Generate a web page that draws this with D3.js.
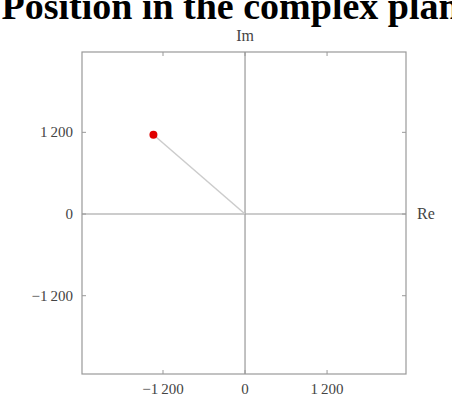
<!DOCTYPE html>
<html>
<head>
<meta charset="utf-8">
<script src="https://cdn.jsdelivr.net/npm/d3@7"></script>
<style>
  body { margin: 0; background: #fff; }
  svg { display: block; }
</style>
</head>
<body>
<svg id="chart" width="452" height="398"></svg>
<script>
// data
var titleText = "Position in the complex plane";
var xLabel = "Re", yLabel = "Im";
var tickValues = [-1200, 0, 1200];
var tickLabels = ["\u22121\u2009200", "0", "1\u2009200"];
var point = [{ re: -1340, im: 1165 }];

var svg = d3.select("#chart");
// plot frame (don't call it "top", that's window.top)
var fLeft = 82, fRight = 406, fTop = 52, fBottom = 374;

var x = d3.scaleLinear().domain([-2385, 2355]).range([fLeft, fRight]);
var y = d3.scaleLinear().domain([-2350, 2380]).range([fBottom, fTop]);

var gray = "#999";
var labelColor = "#444";
var serif = "Liberation Serif, serif";

// title, runs off the top and right edge like the original
svg.append("text")
    .attr("x", 239)
    .attr("y", 19)
    .attr("text-anchor", "middle")
    .style("font-family", serif)
    .style("font-weight", "bold")
    .style("font-size", "38px")
    .text(titleText);

// frame
svg.append("rect")
    .attr("x", fLeft).attr("y", fTop)
    .attr("width", fRight - fLeft).attr("height", fBottom - fTop)
    .attr("fill", "none")
    .attr("stroke", gray)
    .attr("stroke-width", 1.2);

// axis lines through origin
svg.append("line")
    .attr("x1", x(0)).attr("x2", x(0))
    .attr("y1", fTop).attr("y2", fBottom)
    .attr("stroke", gray).attr("stroke-width", 1.2);
svg.append("line")
    .attr("x1", fLeft).attr("x2", fRight)
    .attr("y1", y(0)).attr("y2", y(0))
    .attr("stroke", gray).attr("stroke-width", 1.2);

// ticks on the frame, pointing inward
var tickLen = 4;
tickValues.forEach(function(v) {
    svg.append("line").attr("x1", x(v)).attr("x2", x(v))
        .attr("y1", fBottom).attr("y2", fBottom - tickLen).attr("stroke", gray);
    svg.append("line").attr("x1", x(v)).attr("x2", x(v))
        .attr("y1", fTop).attr("y2", fTop + tickLen).attr("stroke", gray);
    svg.append("line").attr("y1", y(v)).attr("y2", y(v))
        .attr("x1", fLeft).attr("x2", fLeft + tickLen).attr("stroke", gray);
    svg.append("line").attr("y1", y(v)).attr("y2", y(v))
        .attr("x1", fRight).attr("x2", fRight - tickLen).attr("stroke", gray);
});

// tick labels
svg.selectAll(".xt").data(tickValues).enter().append("text")
    .attr("x", function(d) { return x(d); })
    .attr("y", fBottom + 20)
    .attr("text-anchor", "middle")
    .style("font-family", serif)
    .style("font-size", "15px")
    .attr("fill", labelColor)
    .text(function(d, i) { return tickLabels[i]; });

svg.selectAll(".yt").data(tickValues).enter().append("text")
    .attr("x", fLeft - 9)
    .attr("y", function(d) { return y(d) + 5; })
    .attr("text-anchor", "end")
    .style("font-family", serif)
    .style("font-size", "15px")
    .attr("fill", labelColor)
    .text(function(d, i) { return tickLabels[i]; });

// axis names
svg.append("text")
    .attr("x", x(0)).attr("y", 41)
    .attr("text-anchor", "middle")
    .style("font-family", serif)
    .style("font-size", "16px")
    .attr("fill", labelColor)
    .text(yLabel);
svg.append("text")
    .attr("x", fRight + 11).attr("y", y(0) + 5)
    .style("font-family", serif)
    .style("font-size", "16px")
    .attr("fill", labelColor)
    .text(xLabel);

// vector from origin to the point
svg.selectAll(".vec").data(point).enter().append("line")
    .attr("x1", x(0)).attr("y1", y(0))
    .attr("x2", function(d) { return x(d.re); })
    .attr("y2", function(d) { return y(d.im); })
    .attr("stroke", "#ccc")
    .attr("stroke-width", 1.5);

svg.selectAll(".pt").data(point).enter().append("circle")
    .attr("cx", function(d) { return x(d.re); })
    .attr("cy", function(d) { return y(d.im); })
    .attr("r", 4)
    .attr("fill", "#e00000");
</script>
</body>
</html>
